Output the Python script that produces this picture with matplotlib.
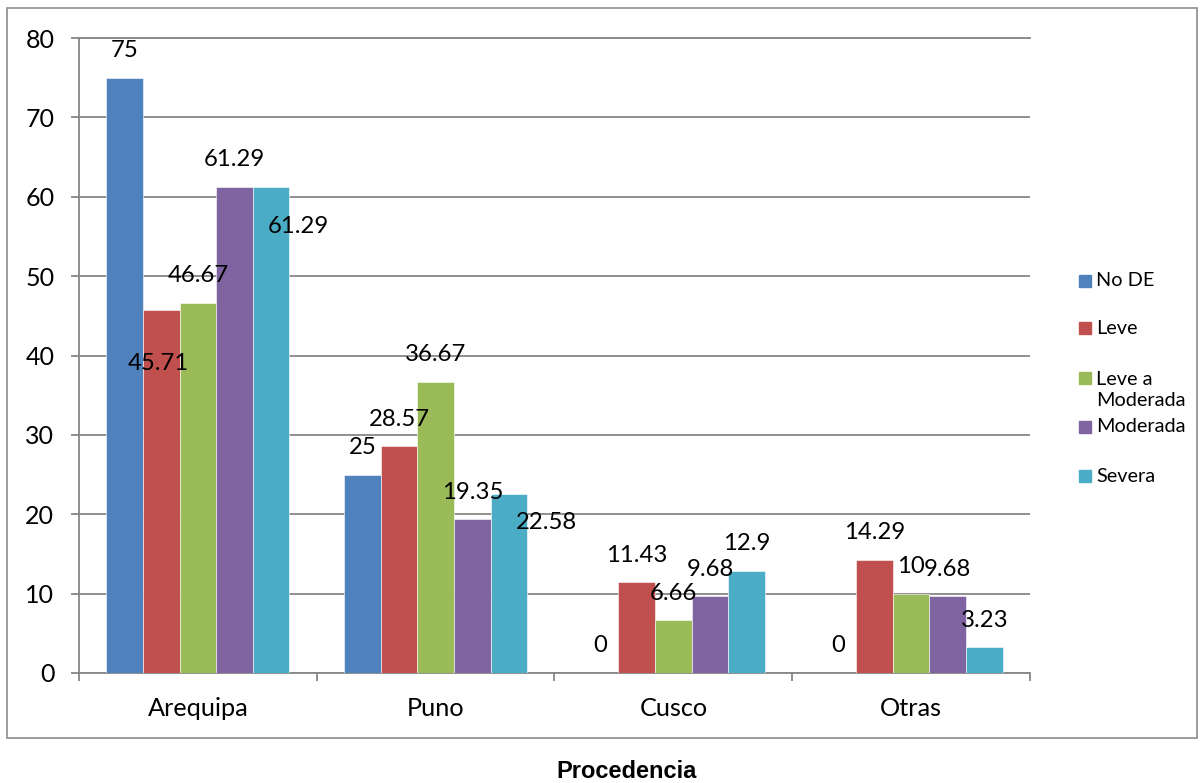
import numpy as np
import matplotlib
matplotlib.use('Agg')
import matplotlib.pyplot as plt
from matplotlib.patches import Rectangle

plt.rcParams['font.family'] = ['Lato', 'DejaVu Sans']

# datos por procedencia (%)
categorias = ['Arequipa', 'Puno', 'Cusco', 'Otras']
series = ['No DE', 'Leve', 'Leve a\nModerada', 'Moderada', 'Severa']
no_de = [75, 25, 0, 0]
leve = [45.71, 28.57, 11.43, 14.29]
leve_moderada = [46.67, 36.67, 6.66, 10]
moderada = [61.29, 19.35, 9.68, 9.68]
severa = [61.29, 22.58, 12.9, 3.23]
etiquetas_y = [0, 10, 20, 30, 40, 50, 60, 70, 80]

valores = [no_de, leve, leve_moderada, moderada, severa]
colores = ['#4F81BD', '#C0504D', '#9BBB59', '#8064A2', '#4BACC6']
gris = '#878787'

W, H = 1202, 783
fig = plt.figure(figsize=(W / 100, H / 100), dpi=100)
ax = fig.add_axes([79 / W, 1 - 673 / H, (1030 - 79) / W, (673 - 38) / H])

# desplazamiento de etiquetas en pixeles (dx, dy) respecto al tope de la barra
desplaz = {(0, 1): (-3, -53), (0, 4): (27, -40), (1, 4): (38, -29)}
px = 0.72  # puntos por pixel a 100 dpi

x = np.arange(len(categorias))
ancho = 0.154
for i, (vals, col) in enumerate(zip(valores, colores)):
    xs = x + (i - 2) * ancho
    ax.bar(xs, vals, width=ancho, color=col, edgecolor='white', linewidth=0.4, zorder=3)
    for j, v in enumerate(vals):
        dx, dy = desplaz.get((j, i), (0, 27))
        ax.annotate(f'{v:g}', (xs[j], v), xytext=(dx * px, dy * px), textcoords='offset points',
                    ha='center', va='center', fontsize=17.2, color='black', zorder=4)

ax.set_xlim(-0.5, len(categorias) - 0.5)
ax.set_ylim(0, 80)
ax.set_yticks(etiquetas_y)
ax.grid(axis='y', color=gris, linewidth=1.3, zorder=0)
ax.set_axisbelow(True)

ax.set_xticks(x)
ax.set_xticklabels(categorias, fontsize=18.2)
ax.set_xticks(np.arange(-0.5, len(categorias), 1.0), minor=True)
ax.tick_params(axis='x', which='major', length=0, pad=17)
ax.tick_params(axis='x', which='minor', length=5.8, width=1.3, color=gris, direction='out')
ax.tick_params(axis='y', length=5.8, width=1.3, color=gris, pad=12, labelsize=18)

for lado in ['left', 'bottom', 'top']:
    ax.spines[lado].set_color(gris)
    ax.spines[lado].set_linewidth(1.3)
ax.spines['right'].set_visible(False)

# leyenda dibujada a mano
leyenda = [(281, 281), (328, 328), (378, 390), (427, 427), (476, 476)]
for (yc, yt), nombre, col in zip(leyenda, series, colores):
    fig.add_artist(Rectangle((1079 / W, 1 - (yc + 6) / H), 12 / W, 12 / H,
                             transform=fig.transFigure, color=col))
    fig.text(1096 / W, 1 - yt / H, nombre, fontsize=14.3, va='center', ha='left',
             linespacing=1.25)

# marco del grafico
fig.add_artist(Rectangle((7 / W, 1 - 738 / H), (1197 - 7) / W, (738 - 8) / H,
                         transform=fig.transFigure, fill=False, edgecolor='#8c8c8c', linewidth=1.2))

fig.text(627 / W, 1 - 772 / H, 'Procedencia', fontsize=17, fontweight='bold',
         family='Liberation Sans', ha='center', va='center')

fig.savefig('out.png', dpi=100)
